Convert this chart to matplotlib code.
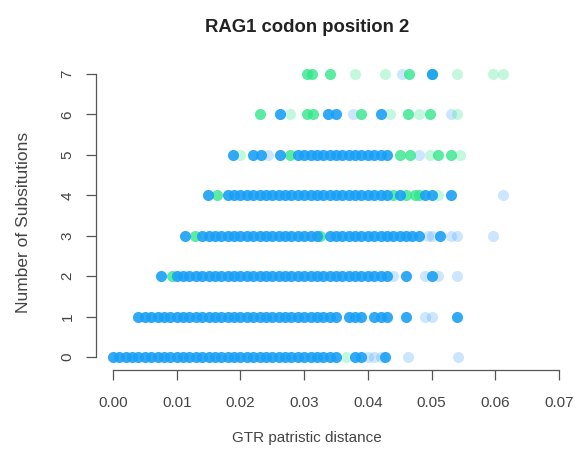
import matplotlib.pyplot as plt

plt.rcParams['font.family'] = ['Liberation Sans', 'DejaVu Sans']

# x positions (GTR patristic distance) per number of substitutions (index = 0..7)
blue_x = [
    [0.000, 0.001, 0.002, 0.003, 0.004, 0.005, 0.006, 0.007, 0.008, 0.009, 0.010, 0.011,
     0.012, 0.013, 0.014, 0.015, 0.016, 0.017, 0.018, 0.019, 0.020, 0.021, 0.022, 0.023,
     0.024, 0.025, 0.026, 0.027, 0.028, 0.029, 0.030, 0.031, 0.032, 0.033, 0.034, 0.035,
     0.038, 0.039, 0.0427],
    [0.004, 0.005, 0.006, 0.007, 0.008, 0.009, 0.010, 0.011, 0.012, 0.013, 0.014, 0.015,
     0.016, 0.017, 0.018, 0.019, 0.020, 0.021, 0.022, 0.023, 0.024, 0.025, 0.026, 0.027,
     0.028, 0.029, 0.030, 0.031, 0.032, 0.033, 0.034, 0.035, 0.037, 0.038, 0.039, 0.041,
     0.042, 0.043, 0.046, 0.054],
    [0.0075, 0.010, 0.011, 0.012, 0.013, 0.014, 0.015, 0.016, 0.017, 0.018, 0.019, 0.020,
     0.021, 0.022, 0.023, 0.024, 0.025, 0.026, 0.027, 0.028, 0.029, 0.030, 0.031, 0.032,
     0.033, 0.034, 0.035, 0.036, 0.037, 0.038, 0.039, 0.040, 0.041, 0.042, 0.043, 0.046,
     0.050],
    [0.0113, 0.014, 0.015, 0.016, 0.017, 0.018, 0.019, 0.020, 0.021, 0.022, 0.023, 0.024,
     0.025, 0.026, 0.027, 0.028, 0.029, 0.030, 0.031, 0.032, 0.034, 0.035, 0.036, 0.037,
     0.038, 0.039, 0.040, 0.041, 0.042, 0.043, 0.044, 0.045, 0.046, 0.047, 0.048, 0.0513],
    [0.0149, 0.018, 0.019, 0.020, 0.021, 0.022, 0.023, 0.024, 0.025, 0.026, 0.027, 0.028,
     0.029, 0.030, 0.031, 0.032, 0.033, 0.034, 0.035, 0.036, 0.037, 0.038, 0.039, 0.040,
     0.041, 0.042, 0.043, 0.045, 0.049, 0.050, 0.053],
    [0.0188, 0.022, 0.0232, 0.0262, 0.029, 0.030, 0.031, 0.032, 0.033, 0.034, 0.035, 0.036,
     0.037, 0.038, 0.039, 0.040, 0.041, 0.042, 0.043],
    [0.0262, 0.0338, 0.035, 0.042],
    [0.050],
]
green_x = [
    [],
    [],
    [0.0093],
    [0.0129, 0.0325],
    [0.0163, 0.044, 0.046, 0.0474, 0.048],
    [0.0278, 0.045, 0.0466, 0.051, 0.053],
    [0.0231, 0.0305, 0.0314, 0.039, 0.0463, 0.0498],
    [0.0305, 0.0312, 0.034, 0.0465, 0.050],
]
faint_blue_x = [
    [0.040, 0.041, 0.042, 0.0463, 0.0542],
    [0.049, 0.050],
    [0.044, 0.049, 0.051, 0.054],
    [0.0495, 0.050, 0.053, 0.054, 0.0597],
    [0.0612],
    [0.0243, 0.048],
    [0.0377, 0.053],
    [0.0454],
]
faint_green_x = [
    [0.0365],
    [],
    [],
    [],
    [0.051],
    [0.020, 0.0498, 0.0545],
    [0.0278, 0.0435, 0.048, 0.054],
    [0.038, 0.0427, 0.054, 0.0597, 0.0612],
]

W, H = 579, 458
fig = plt.figure(figsize=(W / 100, H / 100), dpi=100)
# axes box in pixels: left edge = y axis line, bottom edge = x axis line
left, right, top, bottom = 96, 570, 62, 370
ax = fig.add_axes([left / W, (H - bottom) / H, (right - left) / W, (bottom - top) / H])

px_x = (559 - 113) / 0.07
px_y = (357 - 74) / 7.0
ax.set_xlim((left - 113) / px_x, (right - 113) / px_x)
ax.set_ylim(-(bottom - 357) / px_y, 7 + (74 - top) / px_y)

groups = [
    (faint_blue_x, '#1E90FF', 0.22),
    (faint_green_x, '#2EE68A', 0.28),
    (green_x, '#2EE68A', 0.78),
    (blue_x, '#1AA0F5', 0.9),
]
for xs_by_row, col, a in groups:
    for k, xs in enumerate(xs_by_row):
        if xs:
            ax.scatter(xs, [k] * len(xs), s=64, color=col, alpha=a, linewidths=0)

for s in ['top', 'right']:
    ax.spines[s].set_visible(False)
ax.spines['left'].set_bounds(0, 7)
ax.spines['bottom'].set_bounds(0, 0.07)
for s in ['left', 'bottom']:
    ax.spines[s].set_color('#555555')
    ax.spines[s].set_linewidth(0.9)

xt = [0.00, 0.01, 0.02, 0.03, 0.04, 0.05, 0.06, 0.07]
ax.set_xticks(xt)
ax.set_xticklabels([f'{v:.2f}' for v in xt])
ax.set_yticks(range(8))
ax.set_yticklabels([str(i) for i in range(8)], rotation=90, va='center')
ax.tick_params(axis='both', direction='out', length=7.5, width=0.9, color='#555555',
               labelcolor='#444444', labelsize=11)
ax.tick_params(axis='x', pad=11)
ax.tick_params(axis='y', pad=8)

fig.text(307 / W, 1 - 27 / H, 'RAG1 codon position 2', ha='center', va='center',
         fontsize=13.3, fontweight='bold', color='#222222')
fig.text(307 / W, 1 - 438 / H, 'GTR patristic distance', ha='center', va='center',
         fontsize=11, color='#444444')
fig.text(24 / W, 1 - 222 / H, 'Number of Subsitutions', ha='center', va='center',
         fontsize=12.5, color='#444444', rotation=90)

fig.savefig('out.png', dpi=100)
